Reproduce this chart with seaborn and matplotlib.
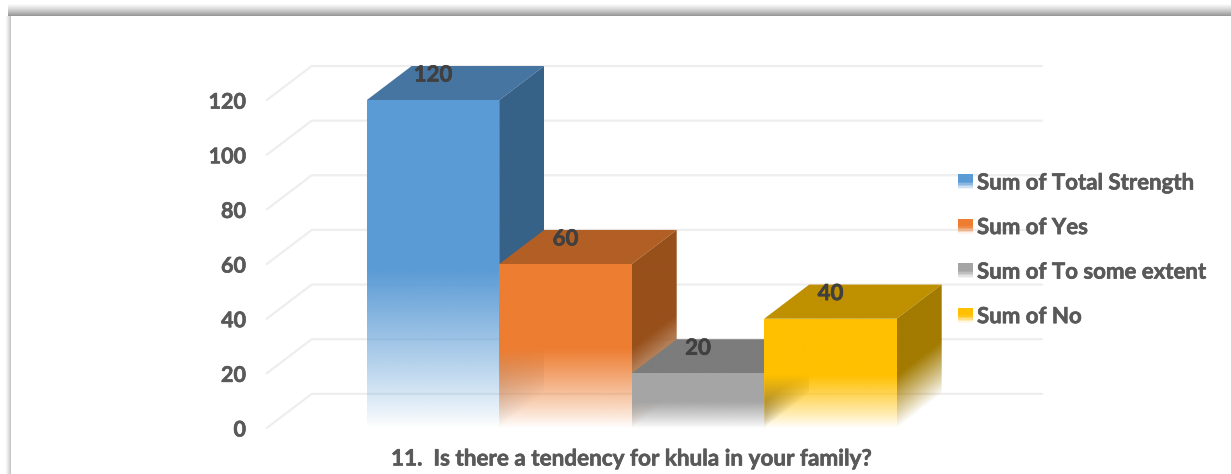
import numpy as np
import pandas as pd
import seaborn as sns
import matplotlib
matplotlib.use("Agg")
import matplotlib.pyplot as plt
import matplotlib.patheffects as pe
from matplotlib.colors import to_rgb
from matplotlib.legend_handler import HandlerPatch
from matplotlib.patches import Patch, Polygon, Rectangle

# data
series = ["Sum of Total Strength", "Sum of Yes", "Sum of To some extent", "Sum of No"]
values = [120, 60, 20, 40]
y_ticks = [0, 20, 40, 60, 80, 100, 120]
title = "11.  Is there a tendency for khula in your family?"

# colours
front_colors = ["#5B9BD5", "#ED7D31", "#A5A5A5", "#FFC000"]
top_colors = ["#4675A1", "#B25F25", "#7C7C7C", "#BF9000"]
side_colors = ["#376288", "#98501B", "#636363", "#A37B00"]

W, H = 1231, 474
DEPTH_X = 45 / 132.5   # depth of the 3d look in category units
DEPTH_Y = 12.5         # same in value units
FADE = 0.48            # share of the bar height that fades out
HEAVY = [pe.withStroke(linewidth=0.45, foreground="#595959")]


def face(ax, pts, color, x_edge=None, fade_from=1.0):
    # one bar face, colour goes to transparent towards the floor
    pts = np.array(pts)
    x0, x1 = pts[:, 0].min(), pts[:, 0].max()
    y0, y1 = pts[:, 1].min(), pts[:, 1].max()
    xx, yy = np.meshgrid(np.linspace(x0, x1, 150), np.linspace(y0, y1, 300))
    v = yy.copy()
    if x_edge is not None:
        v = yy - (xx - x_edge) / DEPTH_X * DEPTH_Y
    rgba = np.zeros(xx.shape + (4,))
    rgba[..., :3] = to_rgb(color)
    rgba[..., 3] = np.clip(v / fade_from, 0, 1) ** 0.9
    im = ax.imshow(rgba, extent=(x0, x1, y0, y1), origin="lower", aspect="auto",
                   interpolation="bilinear", zorder=3)
    im.set_clip_path(Polygon(pts, closed=True, transform=ax.transData))


class FadeHandler(HandlerPatch):
    # legend swatch that fades at the bottom like the bars
    def create_artists(self, legend, orig, xd, yd, w, h, fontsize, trans):
        out = []
        n = 10
        for i in range(n):
            a = min(1.0, (i + 0.5) / n / 0.5)
            out.append(Rectangle((-xd, -yd + h * i / n), w, h / n, transform=trans,
                                 facecolor=orig.get_facecolor()[:3], alpha=a, lw=0))
        return out


sns.set_theme(style="white")
plt.rcParams["font.family"] = ["Lato", "DejaVu Sans"]
plt.rcParams["font.weight"] = "bold"

fig = plt.figure(figsize=(W / 100, H / 100), dpi=100, facecolor="white")

# frame shadow of the pasted picture
bg = fig.add_axes([0, 0, 1, 1], zorder=-1)
frame = np.ones((H, W))
for r in range(3, 16):
    frame[r, 8:] = 1 - 0.40 * ((r - 3) / 12) ** 1.2
for c in range(4, 11):
    frame[16:, c] = 1 - 0.22 * ((c - 4) / 6) ** 1.5
bg.imshow(frame, cmap="gray", vmin=0, vmax=1, aspect="auto", interpolation="bilinear")
bg.axis("off")

# plot area: x from wall to wall, y with 0 and top in pixels
ax_left, ax_right, ax_top, ax_floor = 266.7, 1042.0, 66.0, 428.0
ax = fig.add_axes([ax_left / W, 1 - ax_floor / H, (ax_right - ax_left) / W, (ax_floor - ax_top) / H])
ax.patch.set_alpha(0)

df = pd.DataFrame({"series": series, "value": values})
sns.barplot(data=df, x="series", y="value", hue="series", palette=front_colors,
            width=1, dodge=False, legend=False, ax=ax)

x_lo = -0.5 - 100 / 132.5
x_hi = 3.5 + 145.3 / 132.5
y_hi = max(values) + DEPTH_Y

# walls and grid
for t in y_ticks:
    ax.plot([x_lo, x_lo + DEPTH_X, x_hi], [t, t + DEPTH_Y, t + DEPTH_Y],
            color="#EEEEEE", lw=1.6, zorder=1, clip_on=False)

# bars, back to front
for i, bar in enumerate(list(ax.patches)):
    bar.set_visible(False)
    xl, xr = bar.get_x(), bar.get_x() + bar.get_width()
    h = bar.get_height()
    start = h * FADE
    face(ax, [(xl, h), (xr, h), (xr + DEPTH_X, h + DEPTH_Y), (xl + DEPTH_X, h + DEPTH_Y)],
         top_colors[i], fade_from=0.001)
    face(ax, [(xr, 0), (xr + DEPTH_X, DEPTH_Y), (xr + DEPTH_X, h + DEPTH_Y), (xr, h)],
         side_colors[i], x_edge=xr, fade_from=start)
    face(ax, [(xl, 0), (xr, 0), (xr, h), (xl, h)], front_colors[i], fade_from=start)
    ax.text(i, h + 9.2, str(values[i]), ha="center", va="center", fontsize=16,
            color="#404040", zorder=5, clip_on=False,
            path_effects=[pe.withStroke(linewidth=0.45, foreground="#404040")])

ax.set_xlim(x_lo, x_hi)
ax.set_ylim(0, y_hi)
ax.set_xticks([])
ax.set_xlabel("")
ax.set_ylabel("")
ax.set_yticks(y_ticks)
ax.set_yticklabels([str(t) for t in y_ticks], fontsize=15.5, color="#595959", fontweight="bold",
                   path_effects=HEAVY)
ax.tick_params(axis="y", length=0, pad=15)
ax.grid(False)
sns.despine(ax=ax, left=True, bottom=True)

fig.text(631 / W, 1 - 459 / H, title, ha="center", va="center", fontsize=16.2,
         color="#595959", fontweight="bold", path_effects=HEAVY)

handles = [Patch(facecolor=c, label=s) for c, s in zip(front_colors, series)]
leg = fig.legend(handles=handles, loc="upper left", bbox_to_anchor=(958 / W, 1 - 172.5 / H),
                 frameon=False, fontsize=16, labelcolor="#595959", borderpad=0, borderaxespad=0,
                 labelspacing=1.06, handlelength=0.675, handleheight=0.675, handletextpad=0.18,
                 handler_map={Patch: FadeHandler()})
for t in leg.get_texts():
    t.set_path_effects(HEAVY)

fig.savefig("out.png", dpi=100)
